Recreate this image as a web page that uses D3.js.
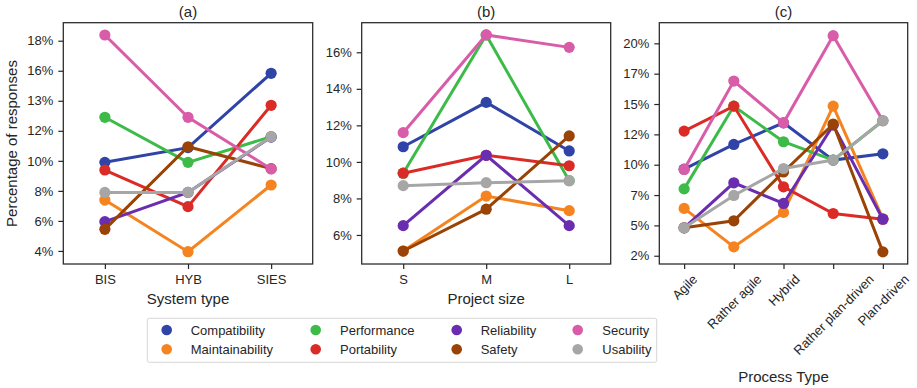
<!DOCTYPE html>
<html>
<head>
<meta charset="utf-8">
<script src="https://cdn.jsdelivr.net/npm/d3@7"></script>
<style>
  body { margin: 0; background: #fff; }
  text { font-family: "Liberation Sans", Arial, sans-serif; fill: #262626; }
</style>
</head>
<body>
<svg id="chart" width="917" height="388"></svg>
<script>
// Quality aspects and their colours (legend order)
const aspects = ["Compatibility", "Maintainability", "Performance", "Portability",
                 "Reliability", "Safety", "Security", "Usability"];
const aspectColors = ["#2f44a6", "#f5831f", "#3dbb49", "#db2b27",
                      "#6a2db0", "#9a4306", "#d95ca9", "#a6a6a6"];

// (a) share of responses by system type, one row per aspect (percent)
const systemTypes = ["BIS", "HYB", "SIES"];
const systemShare = [
  [9.9, 10.88, 15.83],
  [7.39, 3.95, 8.39],
  [12.9, 9.9, 11.61],
  [9.39, 6.95, 13.7],
  [5.95, 7.9, 11.58],
  [5.44, 10.94, 9.48],
  [18.38, 12.9, 9.46],
  [7.9, 7.9, 11.61]
];
const systemTicks = [4, 6, 8, 10, 12, 14, 16, 18];
const systemTickLabels = ["4%", "6%", "8%", "10%", "12%", "13%", "16%", "18%"];

// (b) share of responses by project size
const projectSizes = ["S", "M", "L"];
const projectShare = [
  [10.83, 13.26, 10.6],
  [5.12, 8.13, 7.33],
  [9.38, 16.95, 8.97],
  [9.38, 10.36, 9.79],
  [6.51, 10.36, 6.51],
  [5.12, 7.41, 11.42],
  [11.6, 16.95, 16.27],
  [8.7, 8.86, 8.97]
];
const projectTicks = [6, 8, 10, 12, 14, 16];
const projectTickLabels = ["6%", "8%", "10%", "12%", "14%", "16%"];

// (c) share of responses by process type
const processTypes = ["Agile", "Rather agile", "Hybrid", "Rather plan-driven", "Plan-driven"];
const processShare = [
  [9.63, 11.67, 13.45, 10.38, 10.9],
  [6.4, 3.23, 6.07, 14.83, 5.55],
  [8.01, 14.83, 11.89, 10.38, 13.62],
  [12.77, 14.83, 8.18, 5.98, 5.51],
  [4.8, 8.51, 6.81, 13.26, 5.51],
  [4.8, 5.38, 9.4, 13.35, 2.82],
  [9.61, 16.89, 13.45, 20.63, 13.62],
  [4.8, 7.47, 9.69, 10.38, 13.62]
];
const processTicks = [2.5, 5, 7.5, 10, 12.5, 15, 17.5, 20];
const processTickLabels = ["2%", "5%", "7%", "10%", "12%", "15%", "17%", "20%"];

const svg = d3.select("#chart");
const plotTop = 22.7, plotBottom = 264;

const panels = [
  { title: "(a)", xLabel: "System type", cats: systemTypes, rows: systemShare,
    ticks: systemTicks, tickLabels: systemTickLabels,
    left: 63.3, right: 312.7, yDomain: [3.13, 19.2], rotate: false },
  { title: "(b)", xLabel: "Project size", cats: projectSizes, rows: projectShare,
    ticks: projectTicks, tickLabels: projectTickLabels,
    left: 361.7, right: 610.7, yDomain: [4.41, 17.62], rotate: false },
  { title: "(c)", xLabel: "Process Type", cats: processTypes, rows: processShare,
    ticks: processTicks, tickLabels: processTickLabels,
    left: 659.3, right: 907.7, yDomain: [1.82, 21.7], rotate: true }
];

panels.forEach(p => {
  const x = d3.scalePoint().domain(p.cats).range([p.left, p.right]).padding(0.5);
  const y = d3.scaleLinear().domain(p.yDomain).range([plotBottom, plotTop]);
  const g = svg.append("g");

  // y axis
  const yAxis = d3.axisLeft(y).tickValues(p.ticks)
    .tickFormat((d, i) => p.tickLabels[i]).tickSize(5).tickSizeOuter(0).tickPadding(5);
  const ya = g.append("g").attr("transform", `translate(${p.left},0)`).call(yAxis);
  ya.select(".domain").remove();
  ya.selectAll(".tick line").attr("stroke", "#262626").attr("stroke-width", 1.2);
  ya.selectAll(".tick text").attr("font-size", 13).attr("fill", "#262626")
    .style("font-family", '"Liberation Sans", Arial, sans-serif');

  // x axis
  const xAxis = d3.axisBottom(x).tickSize(5).tickSizeOuter(0).tickPadding(6);
  const xa = g.append("g").attr("transform", `translate(0,${plotBottom})`).call(xAxis);
  xa.select(".domain").remove();
  xa.selectAll(".tick line").attr("stroke", "#262626").attr("stroke-width", 1.2);
  const xt = xa.selectAll(".tick text").attr("font-size", 13).attr("fill", "#262626")
    .style("font-family", '"Liberation Sans", Arial, sans-serif');

  if (p.rotate) {
    xt.each(function () {
      const t = d3.select(this);
      const w = this.getComputedTextLength();
      const h = 11;
      const half = (w + h) * Math.SQRT1_2 / 2;
      t.attr("text-anchor", "middle").attr("dy", "0.35em").attr("y", 0)
       .attr("transform", `translate(0,${9 + half}) rotate(-45)`);
    });
  }

  // frame
  g.append("rect").attr("x", p.left).attr("y", plotTop)
    .attr("width", p.right - p.left).attr("height", plotBottom - plotTop)
    .attr("fill", "none").attr("stroke", "#262626").attr("stroke-width", 1.25);

  // series: line then markers, in legend order
  const line = d3.line().x((d, i) => x(p.cats[i])).y(d => y(d));
  p.rows.forEach((vals, k) => {
    const s = g.append("g");
    s.append("path").datum(vals).attr("d", line)
      .attr("fill", "none").attr("stroke", aspectColors[k]).attr("stroke-width", 3);
    s.selectAll("circle").data(vals).join("circle")
      .attr("cx", (d, i) => x(p.cats[i])).attr("cy", d => y(d)).attr("r", 5.6)
      .attr("fill", aspectColors[k]);
  });

  // title and axis label
  g.append("text").attr("x", (p.left + p.right) / 2).attr("y", 17)
    .attr("text-anchor", "middle").attr("font-size", 15).text(p.title);
  g.append("text").attr("x", (p.left + p.right) / 2).attr("y", p.rotate ? 381.5 : 304)
    .attr("text-anchor", "middle").attr("font-size", 15).text(p.xLabel);
});

// shared y label
svg.append("text").attr("transform", "translate(16.5,143.5) rotate(-90)")
  .attr("text-anchor", "middle").attr("font-size", 15).text("Percentage of responses");

// legend
const legend = svg.append("g");
legend.append("rect").attr("x", 147.3).attr("y", 318.3).attr("width", 509.4).attr("height", 44)
  .attr("rx", 2).attr("fill", "#fff").attr("stroke", "#d6d6d6").attr("stroke-width", 1);
const colMarkX = [166.7, 315.7, 456.7, 577.7];
const colTextX = [190.7, 340, 480.7, 602.3];
const rowY = [330, 349.3];
aspects.forEach((name, k) => {
  const col = Math.floor(k / 2), row = k % 2;
  legend.append("circle").attr("cx", colMarkX[col]).attr("cy", rowY[row]).attr("r", 5.3)
    .attr("fill", aspectColors[k]);
  legend.append("text").attr("x", colTextX[col]).attr("y", rowY[row]).attr("dy", "0.35em")
    .attr("font-size", 13).text(name);
});
</script>
</body>
</html>
